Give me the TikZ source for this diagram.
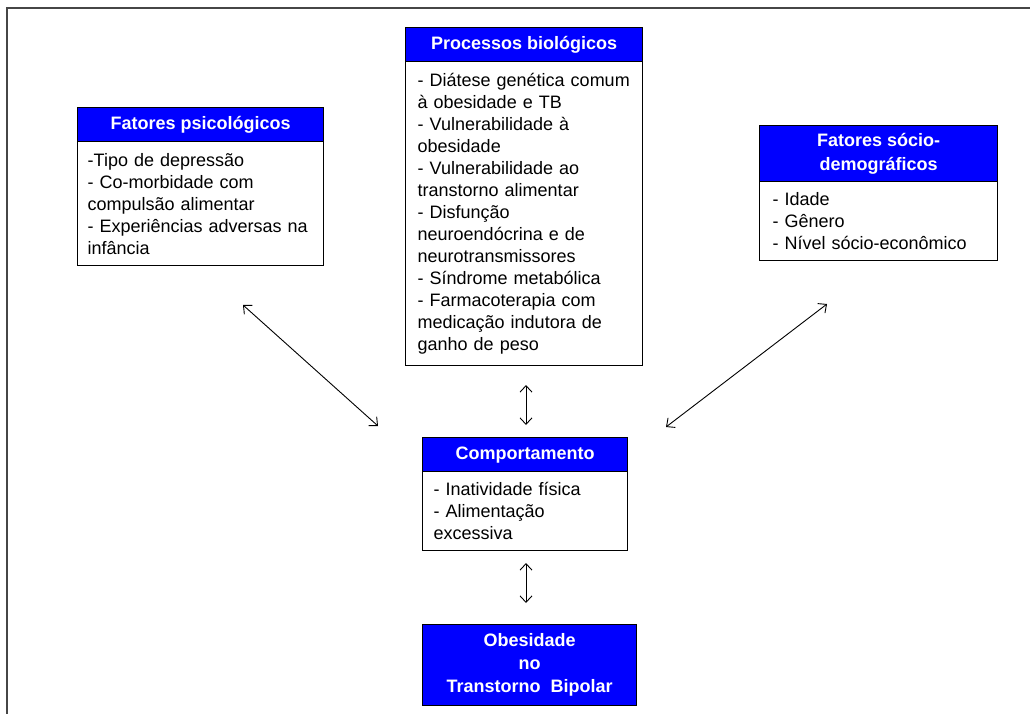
\documentclass[tikz,border=0pt]{standalone}
\usepackage{fontspec}
\setmainfont{Liberation Sans}
\usetikzlibrary{arrows.meta}
\definecolor{blueC}{RGB}{0,0,255}
\definecolor{frameC}{RGB}{70,70,70}
\begin{document}
\begin{tikzpicture}[x=1pt,y=-1pt,
  hdr/.style={draw=black, line width=1.4pt, fill=blueC, text=white,
    font=\fontsize{18}{23}\selectfont\bfseries, align=center, inner sep=0pt, anchor=north west},
  bdy/.style={draw=black, line width=1.4pt, fill=white,
    font=\fontsize{18}{22}\selectfont, align=left, inner ysep=0pt, anchor=north west},
  link/.style={{Straight Barb[length=6.5pt,width=12pt]}-{Straight Barb[length=6.5pt,width=12pt]}, line width=0.9pt}
]
\useasboundingbox (0,0) rectangle (1030,714);
% outer frame
\draw[frameC, line width=1.8pt] (7,714) -- (7,8) -- (1030,8);

% Fatores psicologicos
\node[hdr, minimum width=246pt, minimum height=34pt] (psyH) at (77,107) {Fatores psicológicos};
\node[bdy, minimum width=246pt, minimum height=124pt, inner xsep=10pt, text width=226pt] (psyB) at (77,141)
  {-Tipo de depressão\\- Co-morbidade com\\compulsão alimentar\\- Experiências adversas na\\infância};

% Processos biologicos
\node[hdr, minimum width=237pt, minimum height=34pt] (bioH) at (405,27) {Processos biológicos};
\node[bdy, minimum width=237pt, minimum height=304pt, inner xsep=12pt, text width=213pt] (bioB) at (405,61)
  {- Diátese genética comum\\à obesidade e TB\\- Vulnerabilidade à\\obesidade\\- Vulnerabilidade ao\\transtorno alimentar\\- Disfunção\\neuroendócrina e de\\neurotransmissores\\- Síndrome metabólica\\- Farmacoterapia com\\medicação indutora de\\ganho de peso};

% Fatores socio-demograficos
\node[hdr, minimum width=238pt, minimum height=56pt, font=\fontsize{18}{24}\selectfont\bfseries] (socH) at (759,125) {Fatores sócio-\\demográficos};
\node[bdy, minimum width=238pt, minimum height=79pt, inner xsep=13pt, text width=212pt] (socB) at (759,181)
  {- Idade\\- Gênero\\- Nível sócio-econômico};

% Comportamento
\node[hdr, minimum width=205pt, minimum height=34pt] (comH) at (422,437) {Comportamento};
\node[bdy, minimum width=205pt, minimum height=79pt, inner xsep=11pt, text width=183pt] (comB) at (422,471)
  {- Inatividade física\\- Alimentação\\excessiva};

% Obesidade
\node[hdr, minimum width=214pt, minimum height=81pt] (obe) at (422,624) {Obesidade\\no\\Transtorno\ \ Bipolar};

% connector end points
\coordinate (l1) at (243,305);
\coordinate (l2) at (378,426);
\coordinate (r1) at (827,304);
\coordinate (r2) at (666,427);
\coordinate (v1) at (526,385);
\coordinate (v2) at (526,425);
\coordinate (w1) at (526,563);
\coordinate (w2) at (526,603);

\draw[link] (l1) -- (l2);
\draw[link] (r1) -- (r2);
\draw[link] (v1) -- (v2);
\draw[link] (w1) -- (w2);
\end{tikzpicture}
\end{document}
